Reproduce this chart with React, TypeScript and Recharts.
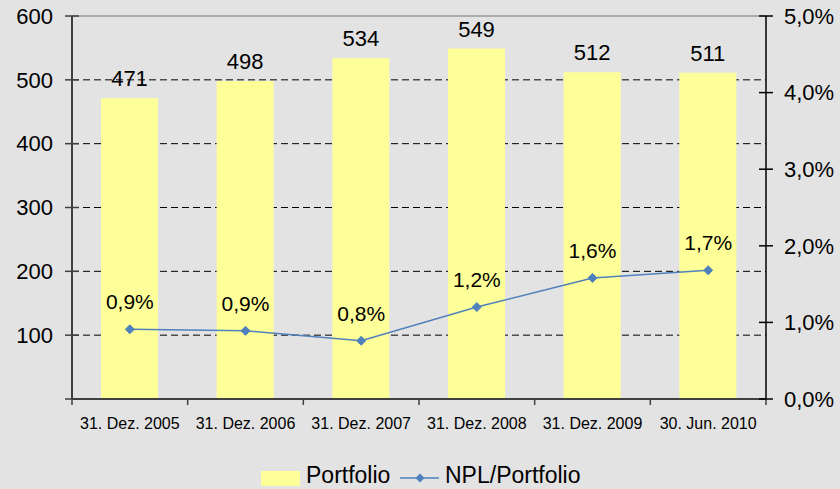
import { ComposedChart, Bar, Line, XAxis, YAxis, CartesianGrid, LabelList, ReferenceLine } from 'recharts';

const categories = ['31. Dez. 2005', '31. Dez. 2006', '31. Dez. 2007', '31. Dez. 2008', '31. Dez. 2009', '30. Jun. 2010'];
const portfolio = [471, 498, 534, 549, 512, 511];
const nplRatio = [0.91, 0.89, 0.76, 1.2, 1.58, 1.68];
const leftTicks = [0, 100, 200, 300, 400, 500, 600];
const rightTicks = [0, 1, 2, 3, 4, 5];
const gridValues = [100, 200, 300, 400, 500];

const W = 840;
const H = 489;
const PLOT_LEFT = 72;
const PLOT_RIGHT = 766;
const BAND = (PLOT_RIGHT - PLOT_LEFT) / categories.length;
const FONT = '"Liberation Sans", Arial, sans-serif';
const AXIS = '#404040';
const BLUE = '#4f81bd';
const YELLOW = '#ffff99';

const data = categories.map((c, i) => ({ name: c, portfolio: portfolio[i], npl: nplRatio[i] }));

const pct = (v: number) => `${v.toFixed(1).replace('.', ',')}%`;

function LeftTick(p: any) {
  const ax = p.x + 7 + 12;
  return (
    <g>
      <line x1={ax - 7} x2={ax + 7} y1={p.y} y2={p.y} stroke={AXIS} strokeWidth={1.5} />
      {p.payload.value !== 0 && (
        <text x={p.x} y={p.y} dy="0.355em" textAnchor="end" fontSize={22} fill="#000" fontFamily={FONT}>
          {p.payload.value}
        </text>
      )}
    </g>
  );
}

function RightTick(p: any) {
  const ax = p.x - 7 - 11;
  return (
    <g>
      <line x1={ax - 7} x2={ax + 7} y1={p.y} y2={p.y} stroke="#000" strokeWidth={1.5} />
      <text x={p.x} y={p.y} dy="0.355em" textAnchor="start" fontSize={22} fill="#000" fontFamily={FONT}>
        {pct(p.payload.value)}
      </text>
    </g>
  );
}

function BottomTick(p: any) {
  const ay = p.y - 6 - 13;
  const last = p.index === categories.length - 1;
  return (
    <g>
      <line x1={p.x - BAND / 2} x2={p.x - BAND / 2} y1={ay} y2={ay + 6} stroke={AXIS} strokeWidth={1.5} />
      {last && <line x1={p.x + BAND / 2} x2={p.x + BAND / 2} y1={ay} y2={ay + 6} stroke={AXIS} strokeWidth={1.5} />}
      <text x={p.x} y={p.y} dy="0.71em" textAnchor="middle" fontSize={16} fill="#000" fontFamily={FONT}>
        {p.payload.value}
      </text>
    </g>
  );
}

function Diamond(p: any) {
  const { cx, cy } = p;
  if (cx == null || cy == null) return null;
  const r = 4.5;
  return <polygon points={`${cx},${cy - r} ${cx + r},${cy} ${cx},${cy + r} ${cx - r},${cy}`} fill={BLUE} stroke={BLUE} />;
}

function ChartLegend() {
  return (
    <svg width={W} height={34} style={{ position: 'absolute', left: 0, top: 455 }}>
      <rect x={261} y={16} width={39} height={15} fill={YELLOW} />
      <text x={306} y={20} dy="0.355em" fontSize={23} fontFamily={FONT} fill="#000">Portfolio</text>
      <line x1={400} x2={439} y1={23} y2={23} stroke={BLUE} strokeWidth={1.5} />
      <polygon points="420,18.5 424.5,23 420,27.5 415.5,23" fill={BLUE} />
      <text x={445} y={20} dy="0.355em" fontSize={23} fontFamily={FONT} fill="#000">NPL/Portfolio</text>
    </svg>
  );
}

export default function App() {
  return (
    <div style={{ position: 'absolute', left: 0, top: 0, width: W, height: H, background: '#e3e3e3', fontFamily: FONT, overflow: 'hidden' }}>
      <ComposedChart width={W} height={H} data={data} margin={{ top: 16, right: 0, bottom: 60, left: 0 }} barSize={57}>
        <CartesianGrid yAxisId="left" vertical={false} horizontalValues={gridValues} stroke="#000" strokeDasharray="7 4" />
        <ReferenceLine yAxisId="left" y={600} stroke="#9a9a9a" strokeWidth={1.5} />
        <XAxis
          dataKey="name"
          height={30}
          interval={0}
          tickLine={false}
          tickSize={6}
          tickMargin={13}
          axisLine={{ stroke: AXIS, strokeWidth: 2 }}
          tick={<BottomTick />}
        />
        <YAxis
          yAxisId="left"
          width={72}
          domain={[0, 600]}
          ticks={leftTicks}
          interval={0}
          tickLine={false}
          tickSize={7}
          tickMargin={12}
          axisLine={{ stroke: AXIS, strokeWidth: 2 }}
          tick={<LeftTick />}
        />
        <YAxis
          yAxisId="right"
          orientation="right"
          width={74}
          domain={[0, 5]}
          ticks={rightTicks}
          interval={0}
          tickLine={false}
          tickSize={7}
          tickMargin={11}
          axisLine={{ stroke: '#000', strokeWidth: 1.5 }}
          tick={<RightTick />}
        />
        <Bar yAxisId="left" dataKey="portfolio" fill={YELLOW} isAnimationActive={false}>
          <LabelList dataKey="portfolio" position="top" offset={12} fontSize={22} fill="#000" fontFamily={FONT} />
        </Bar>
        <Line
          yAxisId="right"
          dataKey="npl"
          stroke={BLUE}
          strokeWidth={1.5}
          dot={<Diamond />}
          activeDot={false}
          isAnimationActive={false}
        >
          <LabelList dataKey="npl" position="top" offset={20} fontSize={21} fill="#000" fontFamily={FONT} formatter={(v: any) => pct(Number(v))} />
        </Line>
      </ComposedChart>
      <ChartLegend />
    </div>
  );
}
